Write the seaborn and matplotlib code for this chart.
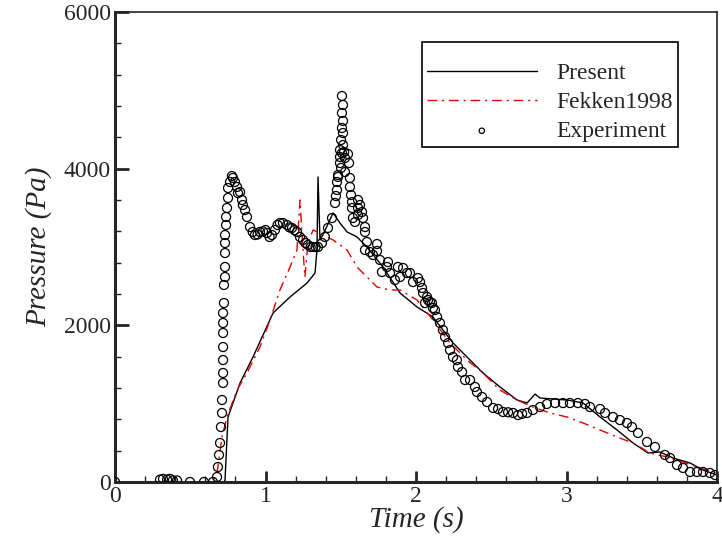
import matplotlib
matplotlib.use("Agg")
import matplotlib.pyplot as plt
from matplotlib.ticker import MultipleLocator
import seaborn as sns
import pandas as pd

# ---- data ----
present_t = [0.0, 0.72, 0.724, 0.731, 0.751, 0.831, 0.917, 1.050, 1.163, 1.276, 1.329,
             1.342, 1.349, 1.362, 1.380, 1.449, 1.495, 1.542, 1.608, 1.674, 1.781, 1.894,
             2.007, 2.113, 2.179, 2.246, 2.339, 2.445, 2.558, 2.671, 2.738, 2.791, 2.824,
             3.003, 3.110, 3.223, 3.336, 3.442, 3.542, 3.621, 3.708, 3.821, 3.907, 4.0]
present_p = [0, 0, 0, 25, 830, 1264, 1596, 2157, 2362, 2540, 2668,
             2962, 3894, 3090, 3150, 3434, 3306, 3192, 3128, 3000, 2745, 2413,
             2234, 2106, 1940, 1775, 1596, 1392, 1213, 1047, 1009, 1123, 1072,
             1047, 1009, 830, 664, 498, 370, 383, 306, 243, 153, 89]

fekken_t = [0.0, 0.65, 0.678, 0.711, 0.744, 0.811, 0.877, 0.963, 1.030, 1.096, 1.163,
            1.209, 1.229, 1.249, 1.262, 1.282, 1.316, 1.362, 1.409, 1.449, 1.542, 1.608,
            1.674, 1.741, 1.827, 1.894, 2.007, 2.113, 2.226, 2.339, 2.445, 2.558, 2.671,
            2.777, 2.890, 3.003, 3.110, 3.223, 3.336, 3.442, 3.555, 3.668, 3.774, 3.887, 4.0]
fekken_p = [0, 0, 115, 574, 830, 1174, 1392, 1723, 2068, 2451, 2745,
            2962, 3600, 2962, 2617, 3051, 3217, 3179, 3128, 3090, 2962, 2745,
            2617, 2489, 2451, 2451, 2323, 2068, 1775, 1557, 1392, 1174, 1047,
            957, 881, 830, 753, 664, 574, 498, 370, 319, 255, 179, 115]

exp_t = [0.0, 0.299, 0.319, 0.346, 0.365, 0.385, 0.412, 0.498, 0.591, 0.651,
         0.678, 0.684, 0.691, 0.698, 0.704, 0.711, 0.711, 0.718, 0.718, 0.718, 0.718,
         0.718, 0.718, 0.718, 0.724, 0.724, 0.731, 0.731, 0.731, 0.731, 0.731, 0.738,
         0.738, 0.744, 0.751, 0.751, 0.764, 0.777, 0.784, 0.797, 0.811, 0.817, 0.831,
         0.844, 0.850, 0.864, 0.877, 0.897, 0.915, 0.930, 0.947, 0.963, 0.983, 1.000,
         1.010, 1.027, 1.043, 1.063, 1.080, 1.096, 1.116, 1.143, 1.160, 1.176, 1.193,
         1.209, 1.229, 1.249, 1.265, 1.282, 1.300, 1.316, 1.333, 1.349, 1.375, 1.395,
         1.415, 1.442, 1.462, 1.475, 1.482, 1.495, 1.508,
         1.508, 1.515, 1.508, 1.515, 1.508, 1.515, 1.502, 1.515, 1.495, 1.522, 1.548,
         1.495, 1.528, 1.555, 1.502, 1.528, 1.482, 1.561, 1.475, 1.561, 1.568, 1.468,
         1.575, 1.615, 1.628, 1.575, 1.615, 1.641, 1.615, 1.581, 1.648, 1.595, 1.661,
         1.661, 1.674, 1.741, 1.661, 1.694, 1.741, 1.714, 1.761, 1.814, 1.807, 1.774,
         1.827, 1.894, 1.880, 1.860, 1.914, 1.940, 1.960, 1.980, 2.013, 2.027, 2.040,
         2.047, 2.060, 2.073, 2.080, 2.093, 2.106, 2.113, 2.126, 2.140, 2.159, 2.179,
         2.193, 2.213, 2.226, 2.246, 2.272, 2.279, 2.306, 2.326, 2.359, 2.392, 2.405,
         2.439, 2.472, 2.512, 2.545, 2.578, 2.612, 2.645, 2.678, 2.705, 2.738, 2.777,
         2.824, 2.870, 2.924, 2.977, 3.023, 3.076, 3.123, 3.156, 3.223, 3.256, 3.309,
         3.355, 3.402, 3.435, 3.475, 3.535, 3.588, 3.654, 3.688, 3.734, 3.774, 3.821,
         3.867, 3.907, 3.953, 3.987]
exp_p = [0, 30, 40, 30, 40, 20, 20, 0, 0, 0,
         64, 191, 345, 498, 702, 881, 1047, 1264, 1392, 1557, 1723,
         1902, 2030, 2157, 2285, 2515, 2617, 2745, 2923, 3051, 3153, 3281,
         3383, 3498, 3626, 3753, 3830, 3906, 3881, 3830, 3766, 3689, 3702,
         3600, 3536, 3472, 3383, 3255, 3192, 3153, 3160, 3192, 3200, 3217,
         3179, 3128, 3153, 3217, 3281, 3306, 3306, 3281, 3250, 3243, 3215,
         3192, 3128, 3089, 3050, 3026, 3000, 3000, 3000, 3000, 3051, 3128,
         3243, 3370, 3562, 3728, 3894, 4072, 4200,
         4928, 4813, 4711, 4609, 4519, 4455, 4366, 4302, 4238, 4213, 4187,
         4149, 4136, 4072, 4009, 3957, 3919, 3881, 3830, 3766, 3664, 3651,
         3574, 3600, 3536, 3498, 3498, 3447, 3409, 3370, 3370, 3319, 3255,
         3192, 3064, 3038, 2962, 2936, 2949, 2898, 2834, 2808, 2745, 2681,
         2668, 2617, 2745, 2579, 2732, 2668, 2668, 2553, 2604, 2553, 2477,
         2413, 2285, 2362, 2323, 2298, 2285, 2221, 2196, 2106, 2030, 1940,
         1851, 1774, 1685, 1596, 1557, 1468, 1404, 1302, 1302, 1213, 1149,
         1085, 1021, 945, 932, 894, 890, 881, 855, 870, 881, 919,
         957, 996, 1008, 1008, 1008, 1008, 996, 957, 932, 881, 830,
         791, 753, 702, 626, 511, 447, 345, 306, 217, 179, 128,
         128, 128, 115, 89]

labels = ["Present", "Fekken1998", "Experiment"]
xticks = [0, 1, 2, 3, 4]
yticks = [0, 2000, 4000, 6000]

# ---- plotting ----
sns.set_style("ticks")
plt.rcParams["font.family"] = ["Liberation Serif", "DejaVu Serif"]
plt.rcParams["mathtext.fontset"] = "stix"

fig = plt.figure(figsize=(7.22, 5.38), dpi=100)
ax = fig.add_axes([115 / 722, 56 / 538, 602 / 722, 470 / 538])

df_present = pd.DataFrame({"t": present_t, "p": present_p})
df_fekken = pd.DataFrame({"t": fekken_t, "p": fekken_p})
df_exp = pd.DataFrame({"t": exp_t, "p": exp_p})

sns.lineplot(data=df_present, x="t", y="p", ax=ax, color="black", lw=1.0,
             sort=False, estimator=None, label=labels[0])
sns.lineplot(data=df_fekken, x="t", y="p", ax=ax, color="#e00000", lw=1.0,
             sort=False, estimator=None, label=labels[1],
             dashes=False)
ax.lines[-1].set_dashes((7, 3.5, 1.5, 3.5))
sns.scatterplot(data=df_exp, x="t", y="p", ax=ax, marker="o", s=42,
                facecolor="none", edgecolor="black", linewidth=0.9,
                label=labels[2], zorder=3)

ax.set_xlim(0, 4)
ax.set_ylim(0, 6000)
ax.set_xticks(xticks)
ax.set_yticks(yticks)
ax.xaxis.set_minor_locator(MultipleLocator(0.2))
ax.yaxis.set_minor_locator(MultipleLocator(400))
ax.tick_params(which="major", direction="in", length=8, width=2,
               labelsize=17, top=False, right=False, pad=3)
ax.tick_params(which="minor", direction="in", length=4, width=1,
               top=False, right=False)
ax.tick_params(axis="y", which="major", length=10)

for side in ["left", "bottom"]:
    ax.spines[side].set_linewidth(2.2)
for side in ["top", "right"]:
    ax.spines[side].set_visible(True)
    ax.spines[side].set_linewidth(1.2)

ax.set_xlabel("Time (s)", fontsize=21, style="italic", labelpad=-1)
ax.set_ylabel("Pressure (Pa)", fontsize=21, style="italic", labelpad=8)

leg = ax.legend(loc="upper right", bbox_to_anchor=(678 / 722, (538 - 42) / 538),
                bbox_transform=fig.transFigure, frameon=True, fancybox=False,
                edgecolor="black", fontsize=17, handlelength=4.65,
                borderpad=0.2, labelspacing=0.32, handletextpad=0.85,
                borderaxespad=0, markerscale=0.6,
                title=" ", title_fontsize=6)
leg.get_frame().set_linewidth(1.2)
leg.get_frame().set_alpha(1)

fig.savefig("out.png", dpi=100)
